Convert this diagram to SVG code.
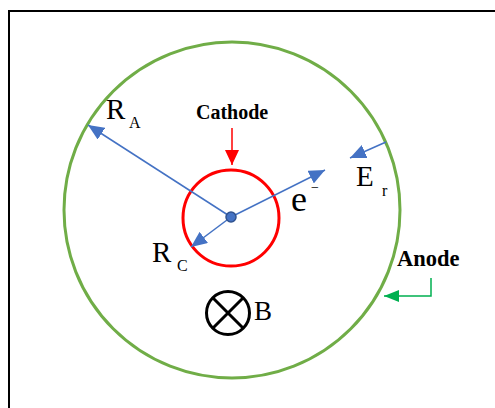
<svg xmlns="http://www.w3.org/2000/svg" width="495" height="408" viewBox="0 0 495 408">
<defs>
<marker id="blue" markerUnits="userSpaceOnUse" markerWidth="18" markerHeight="14" refX="16" refY="7" orient="auto">
<path d="M0,0 L16,7 L0,14 z" fill="#4472C4"/>
</marker>
<marker id="red" markerUnits="userSpaceOnUse" markerWidth="16" markerHeight="14" refX="15" refY="7" orient="auto">
<path d="M0,0 L15,7 L0,14 z" fill="#FF0000"/>
</marker>
<marker id="green" markerUnits="userSpaceOnUse" markerWidth="16" markerHeight="14" refX="15" refY="6" orient="auto">
<path d="M0,0 L15,6 L0,12 z" fill="#00B050"/>
</marker>
</defs>
<style>
.t{font-family:"Liberation Serif","Times New Roman",serif;fill:#000}
.b{font-weight:bold}
.vec{stroke:#4472C4;stroke-width:1.5;fill:none;marker-end:url(#blue)}
</style>
<rect width="495" height="408" fill="#fff"/>
<path d="M9,408 V11 H495" fill="none" stroke="#000" stroke-width="2"/>
<g id="anode">
<circle cx="232" cy="210" r="168" fill="none" stroke="#70AD47" stroke-width="3"/>
</g>
<g id="cathode">
<circle cx="231" cy="218" r="48" fill="none" stroke="#FF0000" stroke-width="3"/>
</g>
<g id="connectors">
<line class="vec" x1="231" y1="217" x2="88" y2="125"/>
<line class="vec" x1="231" y1="217" x2="325" y2="170"/>
<line class="vec" x1="231" y1="217" x2="191" y2="247"/>
<line class="vec" x1="386" y1="142" x2="350" y2="158"/>
<line x1="232" y1="128" x2="232" y2="165" stroke="#FF0000" stroke-width="1.5" marker-end="url(#red)"/>
<path d="M431,278 V296 H384" fill="none" stroke="#00B050" stroke-width="1.5" marker-end="url(#green)"/>
</g>
<g id="center">
<circle cx="231" cy="217" r="5" fill="#4472C4" stroke="#2F528F" stroke-width="1.5"/>
</g>
<g id="labels">
<text class="t b" x="196" y="119" font-size="20">Cathode</text>
<text class="t b" x="397" y="266" font-size="22.5">Anode</text>
<text class="t" x="106" y="119" font-size="29">R</text>
<text class="t" x="129" y="128" font-size="16">A</text>
<text class="t" x="152" y="262" font-size="29">R</text>
<text class="t" x="177" y="271" font-size="16">C</text>
<text class="t" x="291" y="211" font-size="36">e</text>
<text class="t" x="311" y="192" font-size="14">−</text>
<text class="t" x="356" y="186" font-size="29">E</text>
<text class="t" x="382" y="196" font-size="16">r</text>
</g>
<g id="field">
<circle cx="228" cy="313" r="21.5" fill="none" stroke="#000" stroke-width="3"/>
<path d="M213,298 L243,328 M243,298 L213,328" stroke="#000" stroke-width="3"/>
<text class="t" x="254" y="320" font-size="27">B</text>
</g>
</svg>
